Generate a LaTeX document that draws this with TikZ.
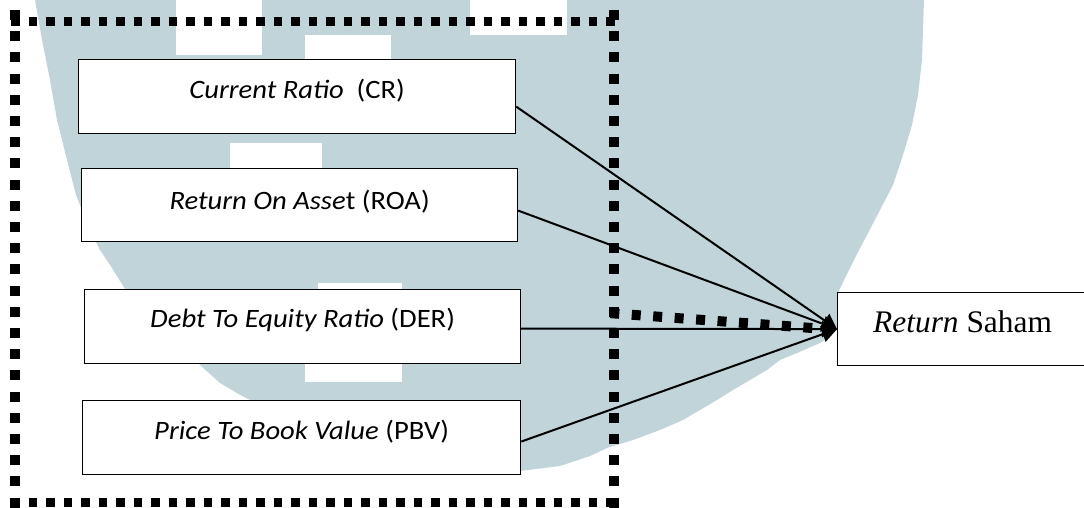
\documentclass[tikz,border=0pt]{standalone}
\usepackage{fontspec}
\newfontfamily\calfont[FakeStretch=1.08]{Carlito}
\newfontfamily\tmsfont{Liberation Serif}
\usetikzlibrary{arrows.meta,calc}
\definecolor{wm}{RGB}{193,212,218}
\begin{document}
\begin{tikzpicture}[x=0.5pt,y=-0.5pt,
  varbox/.style={draw=black, line width=0.6pt, fill=white, inner sep=0pt, anchor=north west,
    font=\fontsize{13.25pt}{16pt}\calfont},
  resbox/.style={draw=black, line width=0.6pt, fill=white, inner sep=0pt, anchor=north west,
    font=\fontsize{15.7pt}{18pt}\tmsfont},
  link/.style={line width=1pt, -{Triangle[length=7.5pt,width=8pt]}},
  hdots/.style={line width=4.5pt, dash pattern=on 4.25pt off 4.5pt},
  vdots/.style={line width=5pt, dash pattern=on 5pt off 5.6pt},
  cdots/.style={line width=5pt, dash pattern=on 4.5pt off 6.25pt},
]
\useasboundingbox (0,0) rectangle (1084,508);
\clip (0,0) rectangle (1084,508);
% watermark
\fill[wm] (35,0) -- (42,40) -- (50,80) -- (57,120) -- (67,160) -- (76,195) -- (90,230)
  -- (100,250) -- (112,268) -- (125,289) -- (160,330) -- (200,365) -- (220,383) -- (242,396)
  -- (260,405) -- (400,465) -- (520,471) -- (560,466) -- (590,456) -- (607,448) -- (633,440)
  -- (660,430) -- (683,420) -- (700,410) -- (717,400) -- (733,390) -- (750,380) -- (767,370)
  -- (780,360) -- (797,353) -- (820,343) -- (830,336) -- (837,330) -- (837,295) -- (845,278)
  -- (855,258) -- (867,235) -- (880,210) -- (893,185) -- (903,155) -- (912,125) -- (918,95)
  -- (922,60) -- (924,0) -- cycle;
\fill[white] (176,0) rectangle (262,55);
\fill[white] (305,35) rectangle (391,59);
\fill[white] (470,0) rectangle (567,35);
\fill[white] (230,143) rectangle (322,168);
\fill[white] (318,283) rectangle (402,289);
\fill[white] (305,363) rectangle (402,382);
% group frame
\node[inner sep=0pt, minimum width=299.25pt, minimum height=239.75pt, anchor=north west] (grp) at (15,22) {};
\draw[hdots] ([xshift=-2pt]grp.north west) -- ([xshift=3pt]grp.north east);
\draw[hdots] ([xshift=-2pt]grp.south west) -- ([xshift=3pt]grp.south east);
\draw[vdots] ([yshift=6pt]grp.north west) -- ([yshift=-3.5pt]grp.south west);
\draw[vdots] ([yshift=6pt]grp.north east) -- ([yshift=-3.5pt]grp.south east);
% boxes
\node[varbox, minimum width=218.5pt, text height=19.65pt, text depth=17.35pt] (CR) at (78,59) {\textit{Current Ratio}~~(CR)};
\node[varbox, minimum width=218pt, text height=20.5pt, text depth=16pt] (ROA) at (81,168) {\textit{Return On Asse}t (ROA)};
\node[varbox, minimum width=218pt, text height=19.15pt, text depth=17.85pt] (DER) at (84,289) {\textit{Debt To Equity Ratio} (DER)};
\node[varbox, minimum width=219pt, text height=19.65pt, text depth=17.35pt] (PBV) at (82,400) {\textit{Price To Book Value} (PBV)};
\node[resbox, minimum width=125pt, text height=19.85pt, text depth=16.65pt] (RS) at (837,292) {\textit{Return} Saham};
% connectors
\draw[cdots] ([xshift=-2pt,yshift=-25.5pt]grp.east) -- ([xshift=-5pt]RS.west);
\draw[link] ([yshift=-5pt]CR.east) -- (RS.west);
\draw[link] ([yshift=-2.75pt]ROA.east) -- (RS.west);
\draw[link] ([yshift=-1pt]DER.east) -- (RS.west);
\draw[link] ([yshift=-2pt]PBV.east) -- (RS.west);
\end{tikzpicture}
\end{document}
